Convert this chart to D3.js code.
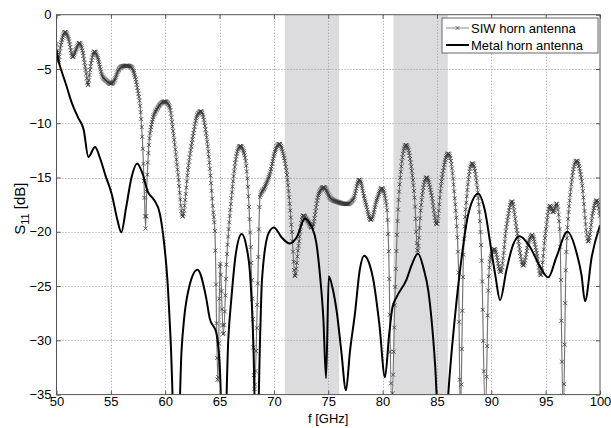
<!DOCTYPE html>
<html>
<head>
<meta charset="utf-8">
<script src="https://cdn.jsdelivr.net/npm/d3@7"></script>
<style>
body { margin: 0; background: #fff; }
svg { font-family: "Liberation Sans", Arial, sans-serif; }
</style>
</head>
<body>
<svg id="chart" width="611" height="428"></svg>
<script>
// S11 of the SIW horn
const siwFreq = [50.0, 50.15, 50.4, 50.8, 51.1, 51.5, 51.8, 52.1, 52.4, 52.7, 52.9, 53.1, 53.5, 53.8, 54.2, 54.6, 55.0, 55.3, 55.7, 56.1,
    56.5, 56.9, 57.2, 57.45, 57.7, 57.95, 58.1, 58.2, 58.32, 58.5, 58.8, 59.3, 60.0, 60.4, 60.75, 61.2, 61.6, 62.13, 62.6, 62.9,
    63.3, 63.7, 64.1, 64.4, 64.58, 64.85, 65.05, 65.35, 65.66, 66.1, 66.5, 66.9, 67.34, 67.8, 68.05, 68.22, 68.5, 68.72, 69.18, 69.64,
    70.1, 70.5, 70.85, 71.18, 71.64, 71.94, 72.25, 72.7, 73.1, 73.5, 74.1, 74.6, 75.2, 76.0, 76.7, 77.3, 77.86, 78.38, 78.93, 79.46,
    79.92, 80.38, 80.55, 80.84, 81.14, 81.35, 81.6, 82.15, 82.7, 82.95, 83.22, 83.5, 84.06, 84.5, 84.98, 85.4, 86.05, 86.6, 86.97, 87.15,
    87.42, 87.74, 88.25, 88.66, 89.12, 89.45, 89.75, 89.95, 90.3, 90.86, 91.4, 91.9, 92.34, 92.95, 93.4, 93.75, 94.18, 94.55, 94.94, 95.4,
    95.7, 96.0, 96.3, 96.62, 96.87, 97.24, 97.86, 98.3, 98.92, 99.33, 99.7, 100.0];
const siwS11 = [-2.7, -4.3, -2.8, -1.6, -2.2, -3.9, -3.2, -2.6, -3.4, -5.2, -6.5, -5.0, -3.4, -4.0, -5.6, -6.1, -6.35, -6.1, -5.1, -4.75,
    -4.7, -4.85, -5.6, -6.8, -8.5, -12.5, -17.0, -19.7, -15.5, -12.0, -9.9, -8.6, -8.0, -8.5, -10.9, -14.9, -18.6, -14.0, -10.9, -9.4,
    -8.9, -10.5, -14.0, -18.0, -20.1, -33.9, -22.8, -29.5, -22.5, -16.8, -13.3, -12.1, -13.1, -19.8, -27.5, -34.5, -25.5, -16.8, -15.85, -14.6,
    -12.6, -11.9, -12.8, -14.6, -19.8, -24.1, -21.4, -18.5, -19.0, -19.6, -16.6, -15.9, -16.9, -17.3, -17.45, -17.0, -15.2, -17.1, -18.9, -17.1,
    -16.0, -17.7, -21.4, -36.0, -26.0, -19.5, -15.3, -12.0, -14.5, -17.0, -21.8, -18.0, -15.0, -16.6, -19.3, -15.5, -12.8, -16.5, -22.9, -37.0,
    -22.9, -16.8, -13.7, -15.5, -22.9, -37.0, -24.5, -22.3, -21.6, -23.7, -19.5, -17.2, -19.8, -23.1, -21.1, -20.3, -22.0, -24.0, -20.5, -17.6,
    -18.2, -17.4, -19.8, -37.0, -22.9, -16.8, -13.45, -15.2, -20.9, -18.3, -17.1, -18.6];

// S11 of the metal horn
const metalFreq = [50.0, 50.2, 50.5, 50.9, 51.2, 51.55, 52.0, 52.5, 52.93, 53.55, 54.0, 54.5, 55.1, 55.6, 55.96, 56.4, 56.9, 57.42, 57.9, 58.4,
    59.0, 59.5, 59.8, 60.2, 60.5, 61.05, 61.5, 61.76, 62.2, 62.97, 63.75, 64.1, 64.7, 65.0, 65.4, 65.8, 66.1, 66.5, 67.04, 67.5,
    67.8, 68.1, 68.4, 68.75, 68.9, 69.5, 70.0, 70.7, 71.45, 72.1, 72.85, 73.5, 73.9, 74.24, 74.55, 74.8, 75.05, 75.4, 75.8, 76.2,
    76.63, 77.0, 77.46, 77.9, 78.3, 78.8, 79.14, 79.7, 80.22, 80.6, 80.9, 81.3, 82.2, 82.7, 83.25, 83.8, 84.2, 84.82, 85.5, 86.04,
    86.66, 87.28, 87.9, 88.8, 89.4, 90.0, 90.4, 90.8, 91.4, 92.0, 92.6, 93.56, 94.48, 95.24, 96.0, 97.0, 97.86, 98.3, 98.62, 99.24, 100.0];
const metalS11 = [-3.2, -4.3, -5.3, -6.5, -7.5, -8.5, -9.5, -10.6, -13.1, -12.2, -13.2, -14.8, -16.6, -18.9, -20.05, -17.8, -15.0, -13.7, -14.6, -16.3,
    -17.1, -18.3, -20.2, -24.4, -30.0, -44.0, -31.0, -27.8, -25.1, -23.5, -26.0, -28.0, -29.3, -32.0, -42.0, -30.0, -26.0, -22.0, -20.2, -21.5,
    -23.8, -30.0, -42.0, -29.0, -24.5, -20.15, -19.6, -20.5, -21.07, -20.5, -18.8, -19.6, -21.0, -24.0, -28.0, -33.5, -24.1, -25.2, -27.5, -31.0,
    -34.6, -31.0, -27.5, -23.5, -22.2, -23.0, -24.4, -28.5, -33.4, -29.5, -27.0, -26.0, -24.4, -23.0, -22.0, -23.5, -25.4, -32.1, -45.0, -35.0,
    -27.8, -22.3, -18.3, -16.5, -18.0, -21.7, -24.2, -26.3, -23.5, -21.2, -20.4, -21.4, -23.2, -24.2, -22.3, -20.0, -22.0, -24.0, -26.4, -22.3, -19.4];

const xTicks = [50, 55, 60, 65, 70, 75, 80, 85, 90, 95, 100];
const yTicks = [0, -5, -10, -15, -20, -25, -30, -35];
const bands = [[71, 76], [81, 86]];
const seriesNames = ["SIW horn antenna", "Metal horn antenna"];

const svg = d3.select("#chart");
const x = d3.scaleLinear().domain([50, 100]).range([56.5, 600]);
const y = d3.scaleLinear().domain([-35, 0]).range([394.6, 14.7]);
const plotLeft = x.range()[0], plotRight = x.range()[1];
const plotTop = y.range()[1], plotBottom = y.range()[0];

svg.append("defs").append("clipPath").attr("id", "plotclip")
    .append("rect")
    .attr("x", plotLeft).attr("y", plotTop)
    .attr("width", plotRight - plotLeft).attr("height", plotBottom - plotTop);

// shaded bands
svg.append("g").selectAll("rect")
    .data(bands)
    .join("rect")
    .attr("x", d => x(d[0]))
    .attr("y", plotTop)
    .attr("width", d => x(d[1]) - x(d[0]))
    .attr("height", plotBottom - plotTop)
    .attr("fill", "#dcdcde");

// dotted grid
const grid = svg.append("g").attr("stroke", "#9a9a9a").attr("stroke-dasharray", "1,2").attr("stroke-width", 1);
grid.selectAll(".gx")
    .data(xTicks.slice(1, -1))
    .join("line")
    .attr("class", "gx")
    .attr("x1", d => Math.round(x(d)) + 0.5).attr("x2", d => Math.round(x(d)) + 0.5)
    .attr("y1", plotTop).attr("y2", plotBottom);
grid.selectAll(".gy")
    .data(yTicks.slice(1, -1))
    .join("line")
    .attr("class", "gy")
    .attr("y1", d => Math.round(y(d)) + 0.5).attr("y2", d => Math.round(y(d)) + 0.5)
    .attr("x1", plotLeft).attr("x2", plotRight);

const line = d3.line()
    .x(d => x(d[0]))
    .y(d => y(d[1]))
    .curve(d3.curveMonotoneX);

const plot = svg.append("g").attr("clip-path", "url(#plotclip)");

const siwPath = plot.append("path")
    .attr("d", line(d3.zip(siwFreq, siwS11)))
    .attr("fill", "none")
    .attr("stroke", "#777")
    .attr("stroke-width", 1.2);

// x markers along the SIW trace, evenly spaced in frequency
function xMark(px, py, s) {
    return `M${px - s},${py - s}L${px + s},${py + s}M${px - s},${py + s}L${px + s},${py - s}`;
}
const node = siwPath.node();
const total = node.getTotalLength();
let lo = 0, marks = "";
for (let px = plotLeft; px <= plotRight; px += 0.55) {
    let a = lo, b = total;
    for (let i = 0; i < 24; i++) {
        const m = (a + b) / 2;
        if (node.getPointAtLength(m).x < px) a = m; else b = m;
    }
    lo = a;
    const p = node.getPointAtLength(b);
    marks += xMark(p.x, p.y, 2);
}
plot.append("path")
    .attr("d", marks)
    .attr("fill", "none")
    .attr("stroke", "#3a3a3a")
    .attr("stroke-width", 0.8);

plot.append("path")
    .attr("d", line(d3.zip(metalFreq, metalS11)))
    .attr("fill", "none")
    .attr("stroke", "#000")
    .attr("stroke-width", 2);

// axes, MATLAB style: ticks inside, box around
const axisColor = "#555";
function styleAxis(g) {
    g.select(".domain").remove();
    g.selectAll(".tick line").attr("stroke", axisColor);
    g.selectAll(".tick text").attr("fill", "#000").style("font-size", "13px");
}
svg.append("g")
    .attr("transform", `translate(0,${plotBottom})`)
    .call(d3.axisBottom(x).tickValues(xTicks).tickSize(-4).tickPadding(2))
    .call(styleAxis);
svg.append("g")
    .attr("transform", `translate(0,${plotTop})`)
    .call(d3.axisTop(x).tickValues(xTicks).tickSize(-4).tickFormat(""))
    .call(styleAxis);
svg.append("g")
    .attr("transform", `translate(${plotLeft},0)`)
    .call(d3.axisLeft(y).tickValues(yTicks).tickSize(-4).tickPadding(5))
    .call(styleAxis);
svg.append("g")
    .attr("transform", `translate(${plotRight},0)`)
    .call(d3.axisRight(y).tickValues(yTicks).tickSize(-4).tickFormat(""))
    .call(styleAxis);

svg.append("rect")
    .attr("x", plotLeft).attr("y", plotTop)
    .attr("width", plotRight - plotLeft).attr("height", plotBottom - plotTop)
    .attr("fill", "none")
    .attr("stroke", axisColor)
    .attr("stroke-width", 1);

// axis labels
svg.append("text")
    .attr("x", (plotLeft + plotRight) / 2)
    .attr("y", 423)
    .attr("text-anchor", "middle")
    .style("font-size", "13px")
    .text("f [GHz]");

const yl = svg.append("text")
    .attr("transform", `translate(25,${(plotTop + plotBottom) / 2 + 4}) rotate(-90)`)
    .attr("text-anchor", "middle")
    .style("font-size", "15px");
yl.append("tspan").text("S");
yl.append("tspan").attr("dy", 4).style("font-size", "11px").text("11");
yl.append("tspan").attr("dy", -4).text(" [dB]");

// legend
const lg = svg.append("g");
lg.append("rect")
    .attr("x", 442).attr("y", 18)
    .attr("width", 156).attr("height", 35)
    .attr("fill", "#fff")
    .attr("stroke", "#666");
const rows = [28, 45];
lg.append("line")
    .attr("x1", 446).attr("x2", 469).attr("y1", rows[0]).attr("y2", rows[0])
    .attr("stroke", "#8c8c8c");
lg.append("path")
    .attr("d", xMark(457.5, rows[0], 1.8))
    .attr("stroke", "#444").attr("stroke-width", 0.8);
lg.append("line")
    .attr("x1", 446).attr("x2", 469).attr("y1", rows[1]).attr("y2", rows[1])
    .attr("stroke", "#000").attr("stroke-width", 2);
lg.selectAll("text")
    .data(seriesNames)
    .join("text")
    .attr("x", 471)
    .attr("y", (d, i) => rows[i])
    .attr("dy", "0.35em")
    .style("font-size", "13px")
    .text(d => d);
</script>
</body>
</html>
